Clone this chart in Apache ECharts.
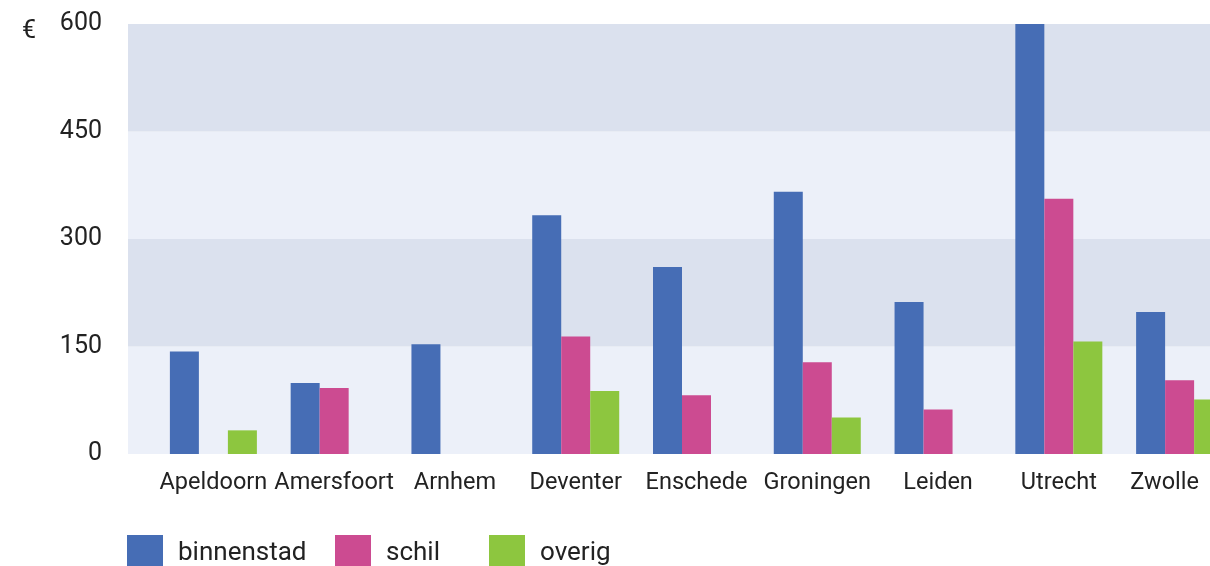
<!DOCTYPE html>
<html>
<head>
<meta charset="utf-8">
<script src="https://cdn.jsdelivr.net/npm/echarts@6/dist/echarts.min.js"></script>
<style>
  html, body { margin: 0; padding: 0; background: #fff; }
  #chart { width: 1210px; height: 566px; }
</style>
</head>
<body>
<div id="chart"></div>
<script>
const cities = ['Apeldoorn', 'Amersfoort', 'Arnhem', 'Deventer', 'Enschede', 'Groningen', 'Leiden', 'Utrecht', 'Zwolle'];
const binnenstad = [143, 99, 153, 333, 261, 366, 212, 600, 198];
const schil = [null, 92, null, 164, 82, 128, 62, 356, 103];
const overig = [33, null, null, 88, null, 51, null, 157, 76];
const yTicks = [0, 150, 300, 450, 600];

const colors = ['#466db5', '#cc4b91', '#8dc63f'];
const font = 'Roboto, "DejaVu Sans", sans-serif';

const chart = echarts.init(document.getElementById('chart'));

const legendBase = {
  top: 530,
  itemWidth: 36,
  itemHeight: 36,
  icon: 'rect',
  textStyle: { fontSize: 26, color: '#222', fontFamily: font, padding: [0, 0, 0, 10] }
};

const labelStyle = { fontSize: 23.5, color: '#222', fontFamily: font };

const option = {
  animation: false,
  color: colors,
  textStyle: { fontFamily: font },
  grid: [
    // achtergrondbanden + y-as
    { left: 128, right: 0, top: 24, bottom: 112, outerBoundsMode: 'none' },
    // staven, loopt rechts buiten beeld door
    { left: 153, width: 1087, top: 24, bottom: 112, outerBoundsMode: 'none' }
  ],
  xAxis: [
    { gridIndex: 0, type: 'category', data: cities, show: false },
    {
      gridIndex: 1,
      type: 'category',
      data: cities,
      axisLine: { show: false },
      axisTick: { show: false },
      axisLabel: Object.assign({
        margin: 17,
        interval: 0,
        // laatste label iets naar links zodat het binnen beeld blijft
        formatter: (v, i) => i === cities.length - 1 ? '{last|' + v + '}' : v,
        rich: { last: Object.assign({ padding: [0, 30, 0, 0] }, labelStyle) }
      }, labelStyle)
    }
  ],
  yAxis: [
    {
      gridIndex: 0,
      type: 'value',
      min: yTicks[0],
      max: yTicks[yTicks.length - 1],
      interval: 150,
      axisLine: { show: false },
      axisTick: { show: false },
      splitLine: { show: false },
      splitArea: { show: true, areaStyle: { color: ['#ecf0f9', '#dbe1ee'] } },
      axisLabel: { fontSize: 25, color: '#222', margin: 26, fontFamily: font }
    },
    {
      gridIndex: 1,
      type: 'value',
      min: yTicks[0],
      max: yTicks[yTicks.length - 1],
      interval: 150,
      show: false,
      splitLine: { show: false }
    }
  ],
  legend: [
    Object.assign({ left: 122, data: ['binnenstad'] }, legendBase),
    Object.assign({ left: 330, data: ['schil'] }, legendBase),
    Object.assign({ left: 484, data: ['overig'] }, legendBase)
  ],
  graphic: [
    {
      type: 'text',
      left: 22,
      top: 19,
      style: { text: '€', fontSize: 25, fill: '#222', fontFamily: font }
    }
  ],
  series: [
    { name: 'binnenstad', type: 'bar', data: binnenstad, xAxisIndex: 1, yAxisIndex: 1, barWidth: 29, barGap: '0%' },
    { name: 'schil', type: 'bar', data: schil, xAxisIndex: 1, yAxisIndex: 1, barWidth: 29, barGap: '0%' },
    { name: 'overig', type: 'bar', data: overig, xAxisIndex: 1, yAxisIndex: 1, barWidth: 29, barGap: '0%' }
  ]
};

chart.setOption(option);
window.addEventListener('resize', () => chart.resize());
</script>
</body>
</html>
